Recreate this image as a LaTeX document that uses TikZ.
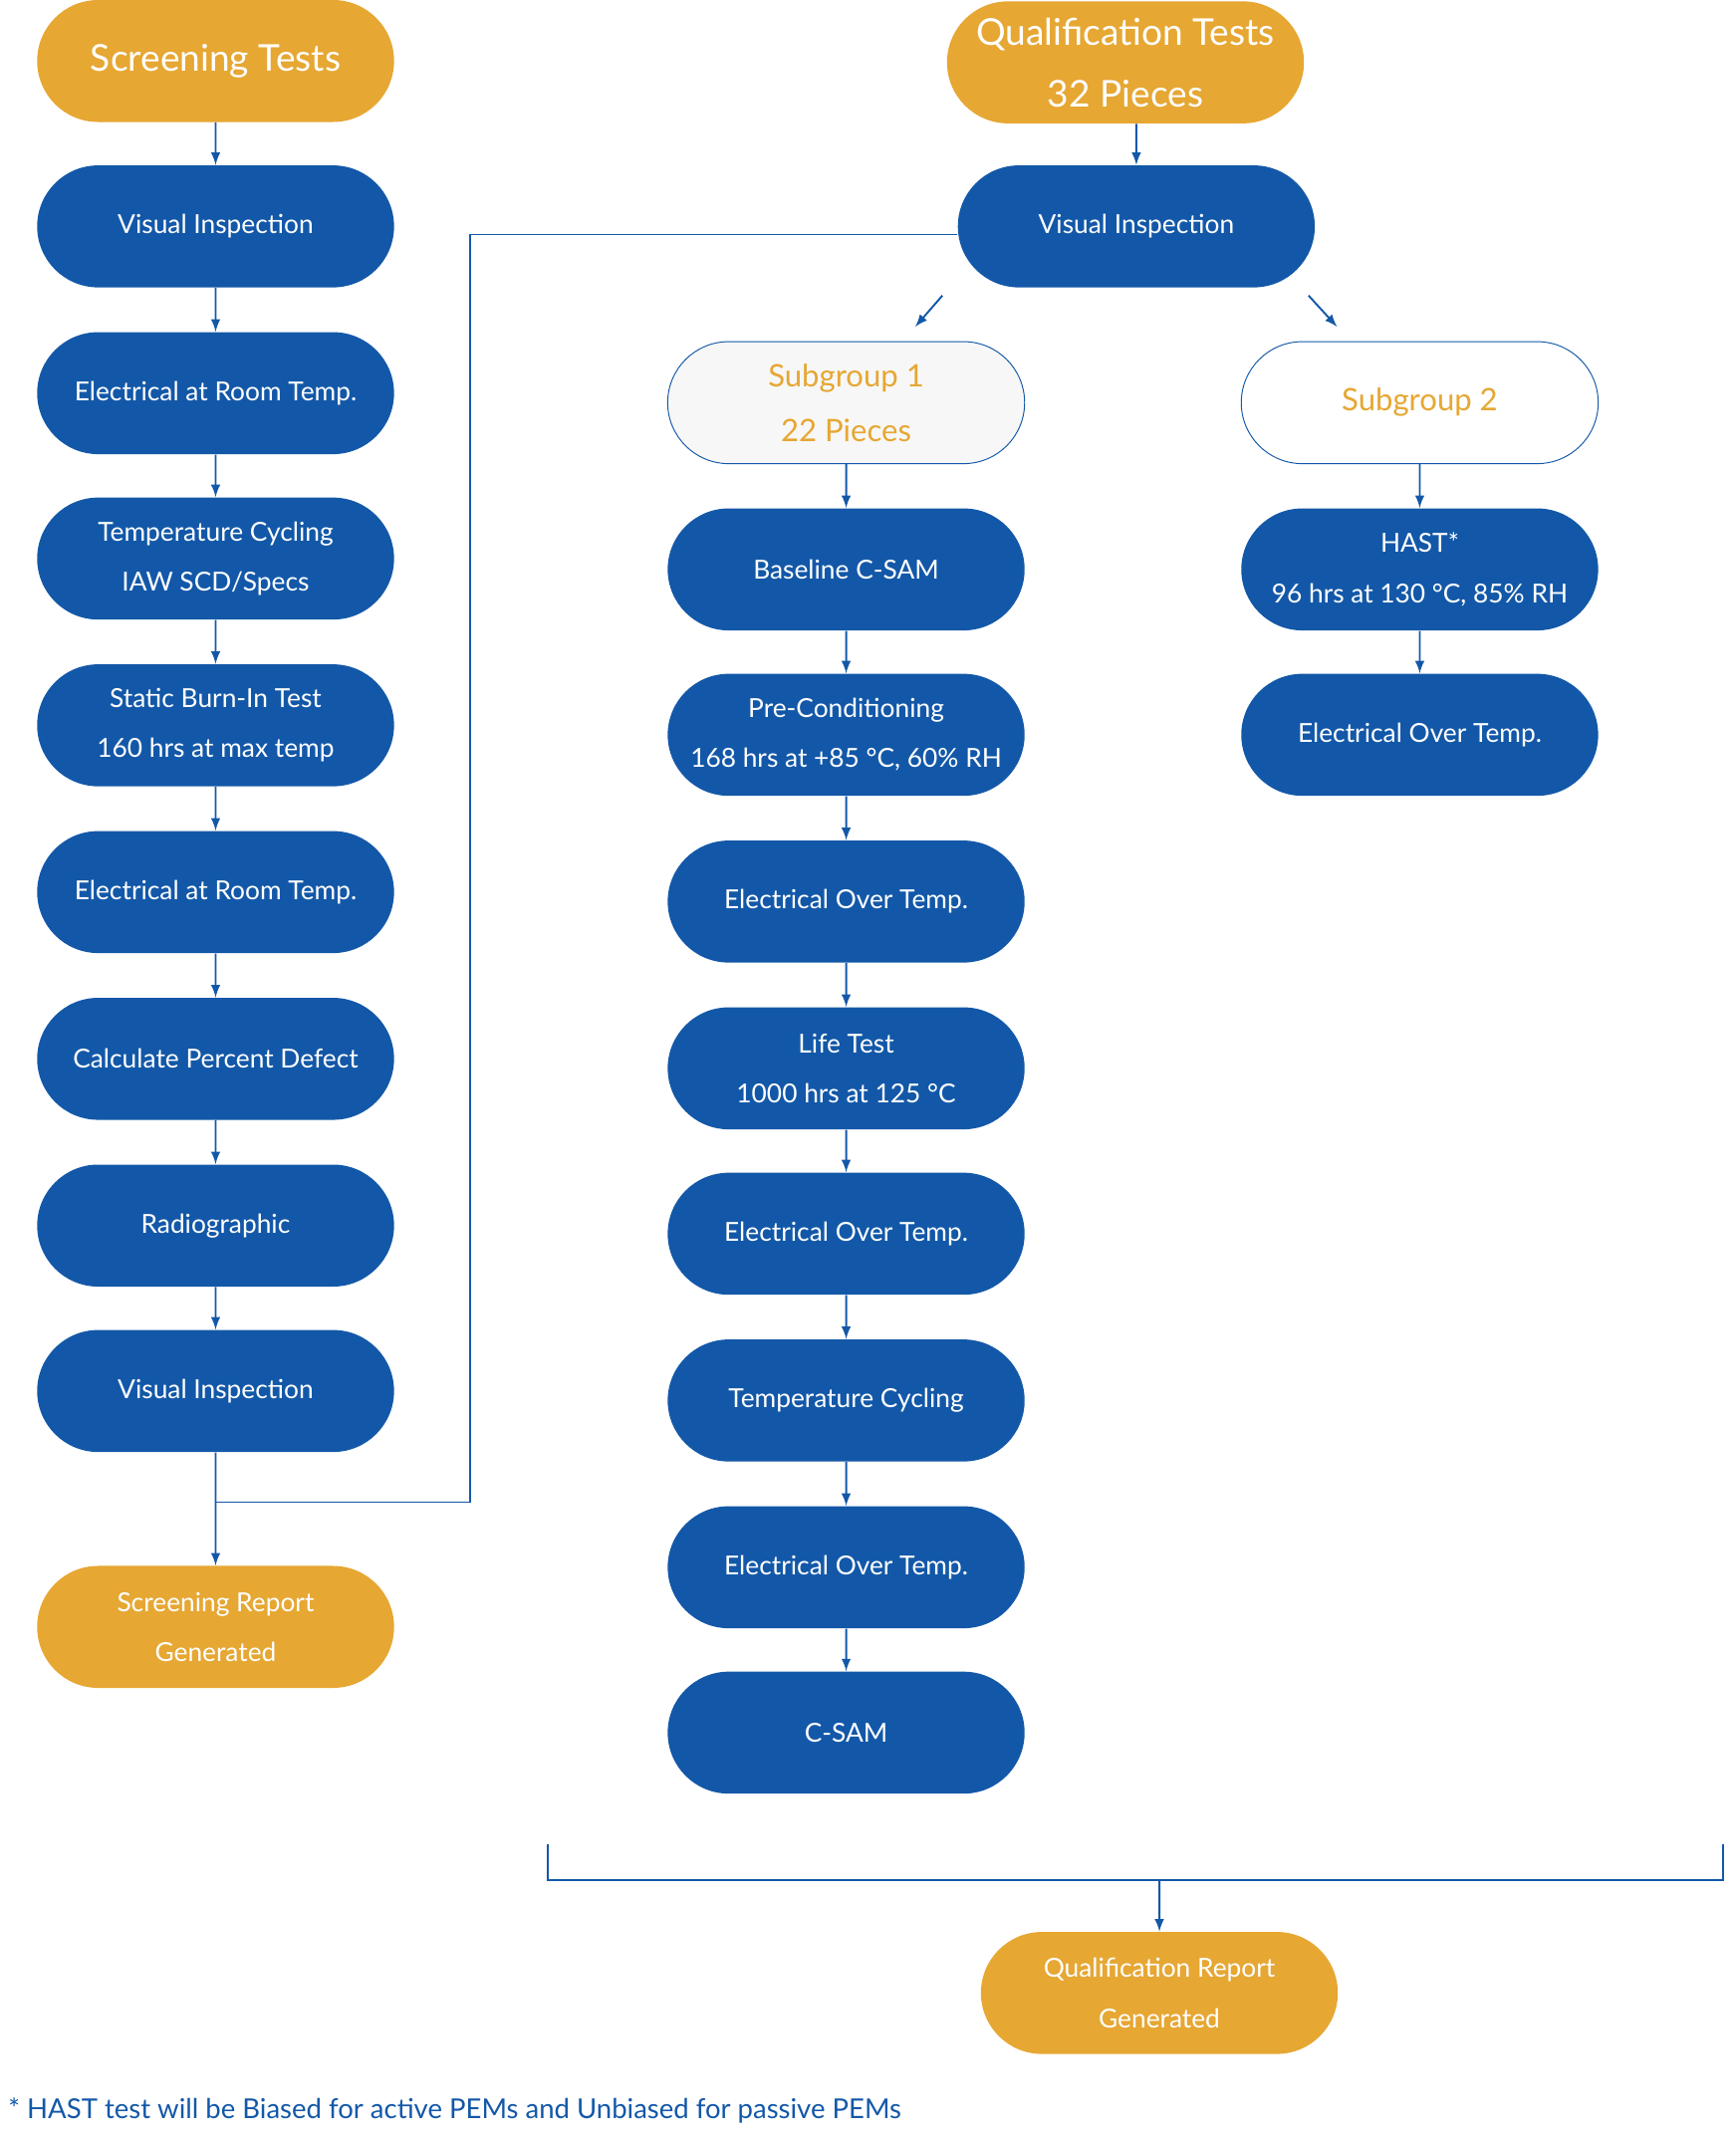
\documentclass[tikz,border=0pt]{standalone}
\usepackage{fontspec}
\setmainfont{Lato}
\usetikzlibrary{shapes.misc}
\definecolor{stepblue}{HTML}{1358A8}
\definecolor{steporange}{HTML}{E6A733}
\begin{document}
\begin{tikzpicture}[x=0.02cm,y=-0.02cm,
    box/.style={rounded rectangle,fill=stepblue,text=white,minimum width=5.5cm,minimum height=1.8cm,align=center,font=\fontsize{11}{21}\selectfont},
    head/.style={box,fill=steporange},
    big/.style={font=\fontsize{15.5}{26}\selectfont},
    sub/.style={box,fill=white,draw=stepblue,text=steporange,font=\fontsize{13}{23}\selectfont},
    flow/.style={draw=stepblue,line width=0.8pt,-latex}]
    \useasboundingbox (0,0) rectangle (1280,1577);

    % screening column
    \node[head,big] (s0) at (159,45) {Screening Tests};
    \node[box] (s1) at (159,167) {Visual Inspection};
    \node[box] (s2) at (159,290) {Electrical at Room Temp.};
    \node[box] (s3) at (159,412) {Temperature Cycling\\IAW SCD/Specs};
    \node[box] (s4) at (159,535) {Static Burn-In Test\\160 hrs at max temp};
    \node[box] (s5) at (159,658) {Electrical at Room Temp.};
    \node[box] (s6) at (159,781) {Calculate Percent Defect};
    \node[box] (s7) at (159,904) {Radiographic};
    \node[box] (s8) at (159,1026) {Visual Inspection};
    \node[head] (sr) at (159,1200) {Screening Report\\Generated};
    \foreach \a/\b in {s0/s1,s1/s2,s2/s3,s3/s4,s4/s5,s5/s6,s6/s7,s7/s8,s8/sr}
      \draw[flow] (\a) -- (\b);

    % qualification
    \node[head,big] (q0) at (830,46) {Qualification Tests\\32 Pieces};
    \node[box] (q1) at (838,167) {Visual Inspection};
    \draw[flow] (q0.south -| q1) -- (q1);
    \coordinate (join) at (159,1108);
    \draw[stepblue,line width=0.8pt] (q1.west |- 0,173) -| (347,1108) -- (join);

    \node[sub,fill=black!3] (g1) at (624,297) {Subgroup 1\\22 Pieces};
    \node[sub] (g2) at (1047,297) {Subgroup 2};
    \coordinate (d1) at (695,218); \coordinate (d1e) at (675,241);
    \coordinate (d2) at (965,218); \coordinate (d2e) at (986,241);
    \draw[flow] (d1) -- (d1e);
    \draw[flow] (d2) -- (d2e);

    \node[box] (m1) at (624,420) {Baseline C-SAM};
    \node[box] (m2) at (624,542) {Pre-Conditioning\\168 hrs at +85 °C, 60\% RH};
    \node[box] (m3) at (624,665) {Electrical Over Temp.};
    \node[box] (m4) at (624,788) {Life Test\\1000 hrs at 125 °C};
    \node[box] (m5) at (624,910) {Electrical Over Temp.};
    \node[box] (m6) at (624,1033) {Temperature Cycling};
    \node[box] (m7) at (624,1156) {Electrical Over Temp.};
    \node[box] (m8) at (624,1278) {C-SAM};
    \foreach \a/\b in {g1/m1,m1/m2,m2/m3,m3/m4,m4/m5,m5/m6,m6/m7,m7/m8}
      \draw[flow] (\a) -- (\b);

    \node[box] (r1) at (1047,420) {HAST*\\96 hrs at 130 °C, 85\% RH};
    \node[box] (r2) at (1047,542) {Electrical Over Temp.};
    \draw[flow] (g2) -- (r1);
    \draw[flow] (r1) -- (r2);

    % bracket and report
    \coordinate (bl) at (404,1360); \coordinate (br) at (1271,1360);
    \coordinate (bm) at (855,1387);
    \draw[stepblue,line width=0.8pt] (bl) -- (404,1387) -- (1271,1387) -- (br);
    \node[head] (qr) at (855,1470) {Qualification Report\\Generated};
    \draw[flow] (bm) -- (qr);

    \node[anchor=west,text=stepblue,font=\fontsize{11.5}{14}\selectfont] (note) at (0,1557)
      {* HAST test will be Biased for active PEMs and Unbiased for passive PEMs};
\end{tikzpicture}
\end{document}
